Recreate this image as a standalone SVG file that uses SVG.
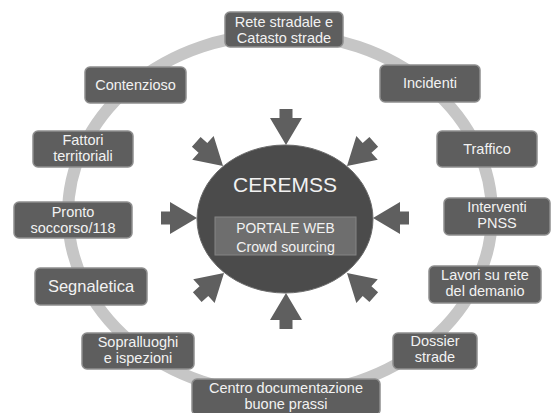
<svg xmlns="http://www.w3.org/2000/svg" width="552" height="413" viewBox="0 0 552 413">
<style>
.box{fill:#5e5e5e;stroke:#8e8e8e;stroke-width:1.5}
.t{font-family:"Liberation Sans",Arial,sans-serif;font-size:14.5px;fill:#f2f2f2;text-anchor:middle}
.arr{fill:#5f5f5f}
</style>
<defs>
<path id="a" d="M0,0 L-27,-16 L-27,-6.5 L-36,-6.5 L-36,6.5 L-27,6.5 L-27,16 Z"/>
</defs>
<rect width="552" height="413" fill="#ffffff"/>
<g id="ring"><ellipse cx="280" cy="214" rx="212" ry="180" fill="none" stroke="#c6c6c6" stroke-width="12"/></g>
<g id="connectors" class="arr">
<use href="#a" transform="translate(286,145) rotate(90)"/>
<use href="#a" transform="translate(286,293) rotate(-90)"/>
<use href="#a" transform="translate(197,218)"/>
<use href="#a" transform="translate(373,218) rotate(180)"/>
<use href="#a" transform="translate(223,166) rotate(42)"/>
<use href="#a" transform="translate(347,166) rotate(138)"/>
<use href="#a" transform="translate(224,273) rotate(-42)"/>
<use href="#a" transform="translate(347,273) rotate(-138)"/>
</g>
<g id="center">
<ellipse cx="285" cy="219" rx="88" ry="74" fill="#4b4b4b" stroke="#6a6a6a" stroke-width="1"/>
<text x="285" y="192" class="t" style="font-size:21px">CEREMSS</text>
<rect x="215" y="217" width="141" height="38" fill="#6e6e6e" stroke="#858585" stroke-width="1"/>
<text x="285.5" y="233" class="t" style="font-size:13.8px">PORTALE WEB</text>
<text x="285.5" y="251.5" class="t" style="font-size:14.2px">Crowd sourcing</text>
</g>
<g id="rete"><rect class="box" x="225" y="12" width="118" height="35" rx="5"/><text class="t" x="284" y="26.75">Rete stradale e</text><text class="t" x="284" y="43.25">Catasto strade</text></g>
<g id="contenzioso"><rect class="box" x="85" y="67" width="101" height="36" rx="5"/><text class="t" x="135.5" y="90">Contenzioso</text></g>
<g id="fattori"><rect class="box" x="33" y="131" width="100" height="36" rx="5"/><text class="t" x="83" y="144.75">Fattori</text><text class="t" x="83" y="161.25">territoriali</text></g>
<g id="pronto"><rect class="box" x="14" y="202" width="118" height="36" rx="5"/><text class="t" x="73" y="216.75">Pronto</text><text class="t" x="73" y="233.25">soccorso/118</text></g>
<g id="segnaletica"><rect class="box" x="35" y="268" width="112" height="37" rx="5"/><text class="t" x="91" y="292" style="font-size:16.5px">Segnaletica</text></g>
<g id="sopralluoghi"><rect class="box" x="82" y="333" width="112" height="36" rx="5"/><text class="t" x="138" y="346.75">Sopralluoghi</text><text class="t" x="138" y="363.25">e ispezioni</text></g>
<g id="centro"><rect class="box" x="192" y="379" width="188" height="36" rx="5"/><text class="t" x="286" y="392.75">Centro documentazione</text><text class="t" x="286" y="409.25">buone prassi</text></g>
<g id="dossier"><rect class="box" x="393" y="333" width="84" height="36" rx="5"/><text class="t" x="435" y="345.75">Dossier</text><text class="t" x="435" y="362.25">strade</text></g>
<g id="lavori"><rect class="box" x="429" y="266" width="112" height="37" rx="5"/><text class="t" x="485" y="279.75">Lavori su rete</text><text class="t" x="485" y="296.25">del demanio</text></g>
<g id="interventi"><rect class="box" x="444" y="198" width="106" height="37" rx="5"/><text class="t" x="497" y="211.75">Interventi</text><text class="t" x="497" y="228.25">PNSS</text></g>
<g id="traffico"><rect class="box" x="437" y="131" width="100" height="36" rx="5"/><text class="t" x="487" y="154">Traffico</text></g>
<g id="incidenti"><rect class="box" x="380" y="65" width="100" height="37" rx="5"/><text class="t" x="430" y="88">Incidenti</text></g>
</svg>
